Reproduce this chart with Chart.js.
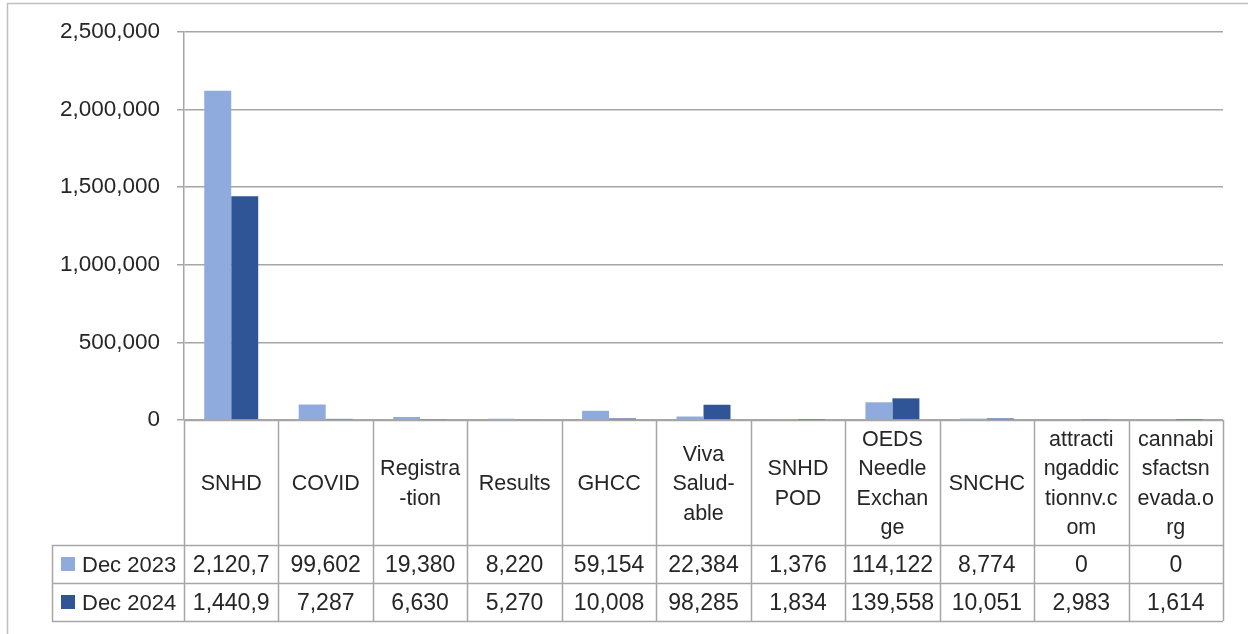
<!DOCTYPE html>
<html>
<head>
<meta charset="utf-8">
<script src="https://cdn.jsdelivr.net/npm/chart.js@4.4.1/dist/chart.umd.min.js"></script>
<style>
  html, body { margin: 0; padding: 0; background: #ffffff; }
  #wrap { width: 1248px; height: 634px; }
</style>
</head>
<body>
<div id="wrap"><canvas id="c" width="1248" height="634"></canvas></div>
<script>
// ---- data ----
const categories = ['SNHD', 'COVID', 'Registration', 'Results', 'GHCC', 'Viva Saludable', 'SNHD POD', 'OEDS Needle Exchange', 'SNCHC', 'attractingaddictionnv.com', 'cannabisfactsnevada.org'];
const headerLines = [
  ['SNHD'], ['COVID'], ['Registra', '-tion'], ['Results'], ['GHCC'],
  ['Viva', 'Salud-', 'able'], ['SNHD', 'POD'], ['OEDS', 'Needle', 'Exchan', 'ge'],
  ['SNCHC'], ['attracti', 'ngaddic', 'tionnv.c', 'om'], ['cannabi', 'sfactsn', 'evada.o', 'rg']
];
const seriesNames = ['Dec 2023', 'Dec 2024'];
const dec2023 = [2120700, 99602, 19380, 8220, 59154, 22384, 1376, 114122, 8774, 0, 0];
const dec2024 = [1440900, 7287, 6630, 5270, 10008, 98285, 1834, 139558, 10051, 2983, 1614];
const yTicks = [0, 500000, 1000000, 1500000, 2000000, 2500000];

// ---- style ----
const FONT = '"Liberation Sans", Arial, sans-serif';
const lineColor = '#a6a6a6';
const textColor = '#262626';
const colors = ['#8faadc', '#2f5597'];

function fmt(v) { return v.toLocaleString('en-US'); }

const framePlugin = {
  id: 'frame',
  beforeDraw(chart) {
    const ctx = chart.ctx;
    ctx.save();
    ctx.fillStyle = '#ffffff';
    ctx.fillRect(0, 0, chart.width, chart.height);
    ctx.strokeStyle = '#bfbfbf';
    ctx.lineWidth = 1.5;
    ctx.beginPath();
    ctx.moveTo(7.5, chart.height);
    ctx.lineTo(7.5, 3.5);
    ctx.lineTo(chart.width, 3.5);
    ctx.stroke();
    ctx.restore();
  }
};

const tablePlugin = {
  id: 'dataTable',
  afterDraw(chart) {
    const ctx = chart.ctx;
    const area = chart.chartArea;
    const xs = chart.scales.x;
    const n = categories.length;
    const colW = (area.right - area.left) / n;
    const yTop = area.bottom;
    const headerH = 125, rowH = 38;
    const y1 = yTop + headerH, y2 = y1 + rowH, y3 = y2 + rowH;
    const legendLeft = 52;

    ctx.save();
    ctx.strokeStyle = lineColor;
    ctx.lineWidth = 1.5;
    ctx.beginPath();
    for (let i = 0; i <= n; i++) {
      const X = Math.round(area.left + i * colW) + 0.5;
      ctx.moveTo(X, yTop);
      ctx.lineTo(X, y3);
    }
    [y1, y2, y3].forEach(y => {
      ctx.moveTo(legendLeft, y + 0.5);
      ctx.lineTo(area.right, y + 0.5);
    });
    ctx.moveTo(area.left, yTop + 0.5);
    ctx.lineTo(area.right, yTop + 0.5);
    ctx.moveTo(legendLeft + 0.5, y1);
    ctx.lineTo(legendLeft + 0.5, y3);
    ctx.stroke();

    // header labels
    ctx.fillStyle = textColor;
    ctx.textAlign = 'center';
    ctx.textBaseline = 'alphabetic';
    const hSize = 21.5, lh = 29.5;
    ctx.font = hSize + 'px ' + FONT;
    const hMid = yTop + headerH / 2;
    const labels = xs.getLabels();
    labels.forEach((lines, i) => {
      const cx = xs.getPixelForValue(i);
      const arr = Array.isArray(lines) ? lines : [lines];
      const start = hMid - (arr.length - 1) * lh / 2;
      arr.forEach((t, k) => {
        ctx.fillText(t, cx, start + k * lh + hSize * 0.716 / 2);
      });
    });

    // value rows
    const vSize = 23;
    const series = chart.data.datasets;
    const rowsY = [y1, y2];
    series.forEach((ds, r) => {
      const cy = rowsY[r] + rowH / 2;
      // legend key + name
      ctx.fillStyle = ds.backgroundColor;
      ctx.fillRect(61, Math.round(cy - 7), 14, 14);
      ctx.fillStyle = textColor;
      ctx.textAlign = 'left';
      ctx.font = '22px ' + FONT;
      ctx.fillText(ds.label, 82, cy + 22 * 0.716 / 2);
      ctx.textAlign = 'center';
      ctx.font = vSize + 'px ' + FONT;
      const maxW = colW - 9;
      ds.data.forEach((v, i) => {
        let t = fmt(v);
        while (t.length > 1 && ctx.measureText(t).width > maxW) t = t.slice(0, -1);
        const cx = area.left + (i + 0.5) * colW;
        ctx.fillText(t, cx, cy + vSize * 0.716 / 2);
      });
    });
    ctx.restore();
  }
};

new Chart(document.getElementById('c'), {
  type: 'bar',
  data: {
    labels: headerLines,
    datasets: [
      { label: seriesNames[0], data: dec2023, backgroundColor: colors[0], borderWidth: 0, categoryPercentage: 1 / 1.75, barPercentage: 1 },
      { label: seriesNames[1], data: dec2024, backgroundColor: colors[1], borderWidth: 0, categoryPercentage: 1 / 1.75, barPercentage: 1 }
    ]
  },
  options: {
    responsive: false,
    animation: false,
    layout: { padding: { top: 32, right: 25, bottom: 214, left: 0 } },
    plugins: { legend: { display: false }, tooltip: { enabled: false } },
    scales: {
      x: { display: false, offset: true },
      y: {
        min: 0, max: 2500000,
        afterFit(s) { s.width = 184; },
        afterBuildTicks(s) { s.ticks = yTicks.map(v => ({ value: v })); },
        grid: { color: lineColor, lineWidth: 1.5, tickLength: 7, drawTicks: true },
        border: { display: true, color: lineColor, width: 1.5 },
        ticks: { padding: 17, color: textColor, font: { family: FONT, size: 22.5 }, callback: v => fmt(v) }
      }
    }
  },
  plugins: [framePlugin, tablePlugin]
});
</script>
</body>
</html>
